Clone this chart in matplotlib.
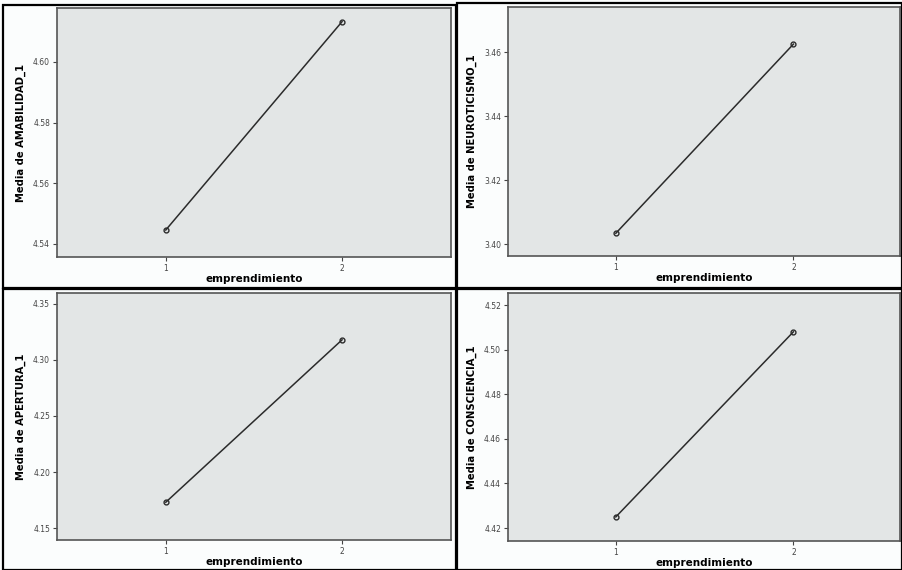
import matplotlib
matplotlib.use("Agg")
import matplotlib.pyplot as plt
from matplotlib.patches import Rectangle

# datos (medias marginales por grupo de emprendimiento)
grupos = [1, 2]
variables = ["AMABILIDAD_1", "NEUROTICISMO_1", "APERTURA_1", "CONSCIENCIA_1"]
medias = [
    [4.5446, 4.6133],
    [3.4034, 3.4625],
    [4.173, 4.318],
    [4.425, 4.508],
]
ticks_y = [
    [4.54, 4.56, 4.58, 4.60],
    [3.40, 3.42, 3.44, 3.46],
    [4.15, 4.20, 4.25, 4.30, 4.35],
    [4.42, 4.44, 4.46, 4.48, 4.50, 4.52],
]
limites_y = [
    (4.5357, 4.6178),
    (3.3963, 3.4741),
    (4.1393, 4.3598),
    (4.4142, 4.5254),
]

W, H = 902, 570
plt.rcParams['font.family'] = ['DejaVu Sans']

fig = plt.figure(figsize=(W / 100, H / 100), dpi=100)
fig.patch.set_facecolor("#fbfdfd")

# cajas de cada panel (px): x0, y0 (arriba), x1, y1
paneles = [(3, 5, 456, 288), (457, 3, 902, 288), (3, 289, 456, 570), (457, 289, 902, 570)]
# area de grafico (px)
areas = [(57, 8, 451, 257), (508, 7, 900, 256), (57, 293, 451, 540), (508, 293, 900, 541)]
xlims = [(0.383, 2.618), (0.393, 2.60), (0.383, 2.618), (0.393, 2.60)]


def px(x0, y0, x1, y1):
    return [x0 / W, 1 - y1 / H, (x1 - x0) / W, (y1 - y0) / H]


for i in range(4):
    p = paneles[i]
    fig.patches.append(Rectangle((p[0] / W, 1 - p[3] / H), (p[2] - p[0]) / W, (p[3] - p[1]) / H,
                                 transform=fig.transFigure, facecolor="none",
                                 edgecolor="black", linewidth=1.6, zorder=0))

    ax = fig.add_axes(px(*areas[i]))
    ax.set_facecolor("#e3e6e6")
    ax.plot(grupos, medias[i], color="#2b2b2b", linewidth=1.1, marker="o",
            markersize=3.5, markerfacecolor="none", markeredgecolor="#2b2b2b",
            markeredgewidth=1.0)
    ax.set_xlim(*xlims[i])
    ax.set_ylim(*limites_y[i])
    ax.set_xticks(grupos)
    ax.set_yticks(ticks_y[i])
    ax.set_yticklabels([f"{t:.2f}" for t in ticks_y[i]])
    for s in ax.spines.values():
        s.set_color("#555555")
        s.set_linewidth(1.2)
    ax.tick_params(axis="both", labelsize=5.5, length=3, width=0.8,
                   colors="#444444", pad=2)
    ax.set_xlabel("emprendimiento", fontsize=7.5, fontweight="bold", labelpad=1)
    ax.set_ylabel("Media de " + variables[i], fontsize=8, fontweight="bold",
                  labelpad=5, fontstretch="condensed")

fig.savefig("out.png", dpi=100)
